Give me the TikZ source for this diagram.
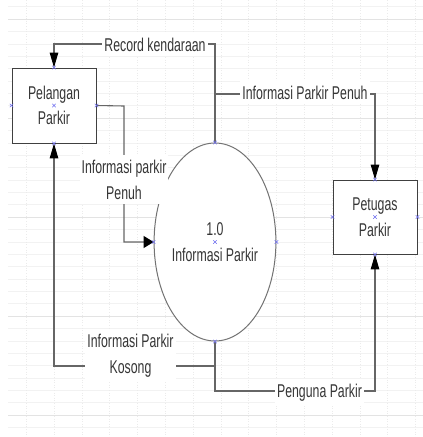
\documentclass[tikz,border=0pt]{standalone}
\usepackage{fontspec}
\setmainfont[FakeStretch=0.665]{Liberation Sans}
\usetikzlibrary{arrows.meta,shapes.geometric,shapes.misc}
\definecolor{txt}{HTML}{363636}
\definecolor{lin}{HTML}{666666}
\definecolor{mk}{HTML}{6F6FF0}
\tikzset{
  boxnode/.style={draw=black!75,line width=0.9pt,fill=white,minimum width=84pt,minimum height=75pt,inner sep=0pt,align=center,text=txt},
  procnode/.style={ellipse,draw=black!55,line width=1pt,fill=white,minimum width=112pt,minimum height=198pt,inner sep=0pt,align=center,text=txt},
  conn/.style={draw=lin,line width=1.1pt},
  vtip/.style={-{Triangle[length=15pt,width=8.5pt,color=black]}},
  htip/.style={-{Triangle[length=10pt,width=12pt,color=black]}},
  lbl/.style={fill=white,inner xsep=2pt,inner ysep=5pt,text=txt,align=center},
  xmark/.style={cross out,draw=mk,line width=0.5pt,minimum size=3pt,inner sep=0pt},
}
\begin{document}
\begin{tikzpicture}[x=1pt,y=-1pt,font=\fontsize{18.5}{25.5}\selectfont]
\useasboundingbox (0,0) rectangle (423,437);
\fill[white] (0,0) rectangle (423,437);
% background grid (very faint)
\foreach \i in {0,...,35}{
  \pgfmathsetmacro{\yy}{6.625+12.375*\i}
  \pgfmathtruncatemacro{\mj}{mod(\i-1,8)==0 ? 1 : 0}
  \ifnum\mj=1
    \draw[black!11,line width=0.6pt] (8,\yy) -- (423,\yy);
  \else
    \draw[black!5,line width=0.5pt] (8,\yy) -- (423,\yy);
  \fi
}
\foreach \k in {-1,...,13}{
  \pgfmathsetmacro{\xx}{54+27.8*\k}
  \draw[black!8,line width=0.6pt,dotted] (\xx,0) -- (\xx,437);
}
% nodes
\node[boxnode] (pel) at (54,105.5) {Pelangan\\Parkir};
\node[boxnode,minimum height=74pt] (pet) at (375,217) {Petugas\\Parkir};
\node[procnode] (ell) at (215,242) {1.0\\Informasi Parkir};
% junction coordinates
\coordinate (rk) at (215,44);
\coordinate (ipp) at (215,94);
\coordinate (pp) at (215,391);
\coordinate (ipk) at (215,366);
\coordinate (ipz) at (124,106);
% connectors
\draw[conn,vtip] (ell.north) -- (rk) -| (pel.north);
\draw[conn,vtip] (ipp) -| (pet.north);
\draw[conn,htip] (pel.east) -- (ipz) |- (ell.west);
\draw[conn,vtip] (ell.south) -- (pp) -| (pet.south);
\draw[conn,vtip] (ipk) -| (pel.south);
% labels (base = baseline of the last line)
\node[lbl,anchor=base] (lrk) at (155,51) {Record kendaraan};
\node[lbl,anchor=base] (lipp) at (305,99.3) {Informasi Parkir Penuh};
\node[lbl,anchor=base] (lipz) at (124,199) {Informasi parkir\\Penuh};
\node[lbl,anchor=base] (lipk) at (130.5,373) {Informasi Parkir\\Kosong};
\node[lbl,anchor=base] (lpp) at (319.5,397) {Penguna Parkir};
% connection point markers
\foreach \n in {pel,pet,ell}{
  \foreach \a in {north,south,east,west,center}{
    \node[xmark] (\n-\a) at (\n.\a) {};
  }
}
\end{tikzpicture}
\end{document}
